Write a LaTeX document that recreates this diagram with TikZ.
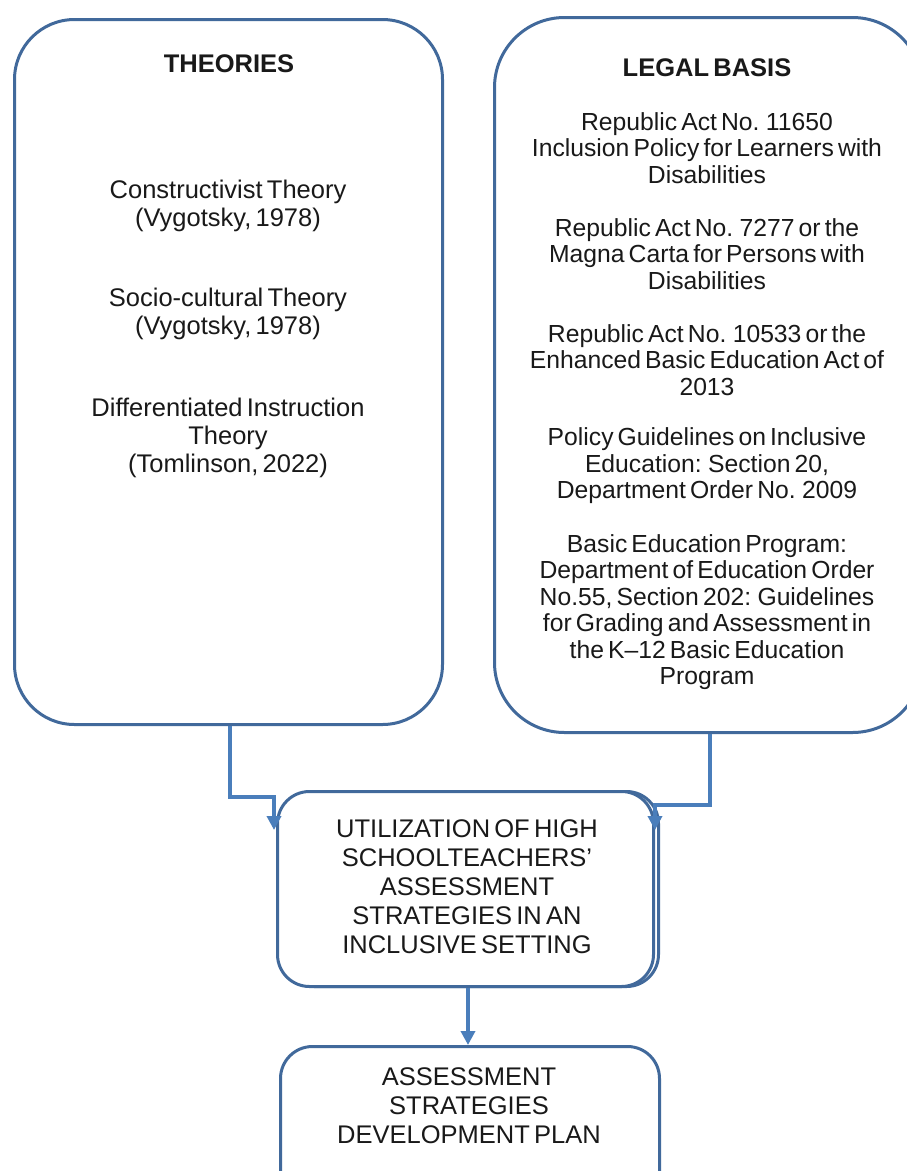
\documentclass[tikz,border=0pt]{standalone}
\usepackage{fontspec}
\setmainfont[WordSpace=0.6]{Liberation Sans}
\usetikzlibrary{arrows.meta,calc}
\definecolor{boxblue}{RGB}{65,105,155}
\definecolor{linkblue}{RGB}{74,126,187}
\begin{document}
\begin{tikzpicture}[x=1pt,y=-1pt,
  bigbox/.style={draw=boxblue,line width=3pt,fill=white,rounded corners=#1},
  conn/.style={draw=linkblue,line width=4pt,-{Triangle[length=14pt,width=14pt]}},
  txt/.style={align=center,inner sep=0pt,text=black!90},
  legaltxt/.style={txt,font=\fontsize{24.7}{26.5}\selectfont},
  theotxt/.style={txt,font=\fontsize{25.5}{28}\selectfont},
  captxt/.style={txt,font=\fontsize{25.5}{29}\selectfont}]
\useasboundingbox (0,0) rectangle (907,1171);
% boxes
\node[bigbox=60pt,minimum width=428pt,minimum height=705pt,anchor=north west] (theories) at (13,18) {};
\node[bigbox=70pt,minimum width=428pt,minimum height=715pt,anchor=north west] (legal) at (493,16) {};
\node[bigbox=32pt,minimum width=376pt,minimum height=195pt,anchor=north west] (utilback) at (281,790) {};
\node[bigbox=32pt,minimum width=376pt,minimum height=195pt,anchor=north west] (util) at (276,790) {};
\node[bigbox=32pt,minimum width=379pt,minimum height=160pt,anchor=north west] (plan) at (279,1045) {};
% texts
\node[txt,font=\bfseries\fontsize{25.5}{26}\selectfont] (theot) at (229,64) {THEORIES};
\node[theotxt] (t1) at (228,206) {Constructivist Theory\\(Vygotsky, 1978)};
\node[theotxt] (t2) at (228,314) {Socio-cultural Theory\\(Vygotsky, 1978)};
\node[theotxt] (t3) at (228,438) {Differentiated Instruction\\Theory\\(Tomlinson, 2022)};
\node[txt,font=\bfseries\fontsize{25.5}{26}\selectfont] (legalt) at (707,68) {LEGAL BASIS};
\node[legaltxt] (l1) at (707,148) {Republic Act No. 11650\\Inclusion Policy for Learners with\\Disabilities};
\node[legaltxt] (l2) at (707,254) {Republic Act No. 7277 or the\\Magna Carta for Persons with\\Disabilities};
\node[legaltxt] (l3) at (707,360) {Republic Act No. 10533 or the\\Enhanced Basic Education Act of\\2013};
\node[legaltxt] (l4) at (707,466) {Policy Guidelines on Inclusive\\Education: Section 20,\\Department Order No. 2009};
\node[legaltxt] (l5) at (707,612) {Basic Education Program:\\Department of Education Order\\No.55, Section 202: Guidelines\\for Grading and Assessment in\\the K–12 Basic Education\\Program};
\node[captxt] (ut) at (467,887) {UTILIZATION OF HIGH\\SCHOOLTEACHERS’\\ASSESSMENT\\STRATEGIES IN AN\\INCLUSIVE SETTING};
\node[captxt] (pt) at (469,1106) {ASSESSMENT\\STRATEGIES\\DEVELOPMENT PLAN};
% connectors
\coordinate (lbend) at (230,797);
\coordinate (ltip) at (274,830);
\coordinate (rbend) at (710,805);
\coordinate (rtip) at (655,830);
\draw[conn] (lbend |- theories.south) |- (ltip |- lbend) -- (ltip);
\draw[conn] (rbend |- legal.south) |- (rtip |- rbend) -- (rtip);
\draw[conn] (util.south -| 468,0) -- (plan.north -| 468,0);
\end{tikzpicture}
\end{document}
